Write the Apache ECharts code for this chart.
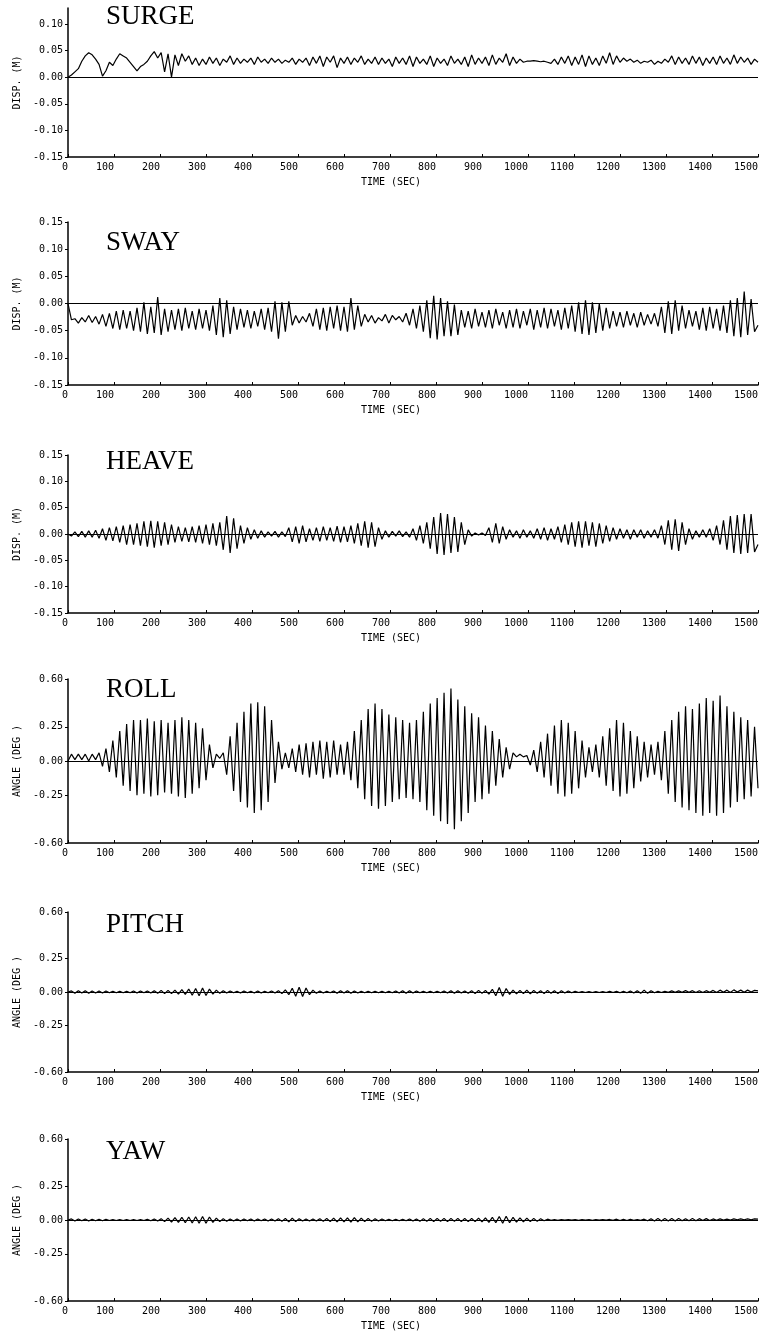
<!DOCTYPE html>
<html>
<head>
<meta charset="utf-8">
<script src="https://cdn.jsdelivr.net/npm/echarts@6/dist/echarts.min.js"></script>
<style>
html,body{margin:0;padding:0;background:#fff;}
#chart{width:763px;height:1334px;}
</style>
</head>
<body>
<div id="chart"></div>
<script>
// ---- Data ----
const TIME = [
0,7.5,15,22.5,30,37.5,45,52.5,60,67.5,
75,82.5,90,97.5,105,112.5,120,127.5,135,142.5,
150,157.5,165,172.5,180,187.5,195,202.5,210,217.5,
225,232.5,240,247.5,255,262.5,270,277.5,285,292.5,
300,307.5,315,322.5,330,337.5,345,352.5,360,367.5,
375,382.5,390,397.5,405,412.5,420,427.5,435,442.5,
450,457.5,465,472.5,480,487.5,495,502.5,510,517.5,
525,532.5,540,547.5,555,562.5,570,577.5,585,592.5,
600,607.5,615,622.5,630,637.5,645,652.5,660,667.5,
675,682.5,690,697.5,705,712.5,720,727.5,735,742.5,
750,757.5,765,772.5,780,787.5,795,802.5,810,817.5,
825,832.5,840,847.5,855,862.5,870,877.5,885,892.5,
900,907.5,915,922.5,930,937.5,945,952.5,960,967.5,
975,982.5,990,997.5,1005,1012.5,1020,1027.5,1035,1042.5,
1050,1057.5,1065,1072.5,1080,1087.5,1095,1102.5,1110,1117.5,
1125,1132.5,1140,1147.5,1155,1162.5,1170,1177.5,1185,1192.5,
1200,1207.5,1215,1222.5,1230,1237.5,1245,1252.5,1260,1267.5,
1275,1282.5,1290,1297.5,1305,1312.5,1320,1327.5,1335,1342.5,
1350,1357.5,1365,1372.5,1380,1387.5,1395,1402.5,1410,1417.5,
1425,1432.5,1440,1447.5,1455,1462.5,1470,1477.5,1485,1492.5,1500
];

const SURGE = [
0.000,0.004,0.010,0.016,0.030,0.040,0.046,0.042,0.034,0.024,
0.002,0.012,0.028,0.022,0.034,0.044,0.040,0.036,0.028,0.020,
0.012,0.020,0.024,0.030,0.040,0.048,0.036,0.046,0.010,0.044,
0.000,0.042,0.022,0.044,0.030,0.040,0.024,0.036,0.022,0.034,
0.024,0.038,0.026,0.036,0.022,0.034,0.028,0.040,0.024,0.036,
0.026,0.034,0.028,0.036,0.024,0.038,0.028,0.034,0.026,0.036,
0.028,0.034,0.026,0.032,0.028,0.036,0.024,0.034,0.028,0.036,
0.022,0.038,0.026,0.040,0.020,0.038,0.028,0.040,0.018,0.036,
0.026,0.038,0.024,0.036,0.028,0.040,0.024,0.034,0.026,0.038,
0.024,0.036,0.026,0.034,0.020,0.038,0.026,0.036,0.024,0.040,
0.020,0.038,0.026,0.034,0.024,0.040,0.020,0.036,0.026,0.034,
0.022,0.040,0.026,0.034,0.024,0.038,0.020,0.042,0.024,0.036,
0.026,0.038,0.022,0.042,0.024,0.036,0.028,0.044,0.022,0.038,
0.026,0.034,0.028,0.030,0.030,0.031,0.030,0.029,0.030,0.028,
0.026,0.034,0.024,0.038,0.026,0.040,0.022,0.038,0.024,0.042,
0.020,0.040,0.024,0.036,0.022,0.040,0.026,0.046,0.024,0.040,
0.028,0.036,0.030,0.034,0.028,0.032,0.026,0.030,0.028,0.032,
0.024,0.030,0.026,0.034,0.028,0.040,0.024,0.038,0.026,0.036,
0.024,0.040,0.026,0.038,0.022,0.036,0.026,0.038,0.024,0.040,
0.026,0.036,0.024,0.042,0.026,0.038,0.028,0.036,0.024,0.034,0.028
];

const SWAY = [
0.000,-0.030,-0.028,-0.036,-0.026,-0.034,-0.022,-0.035,-0.024,-0.038,
-0.020,-0.042,-0.018,-0.046,-0.014,-0.048,-0.012,-0.046,-0.014,-0.050,
-0.008,-0.052,0.002,-0.056,-0.006,-0.054,0.012,-0.058,-0.010,-0.052,
-0.012,-0.048,-0.010,-0.050,-0.008,-0.046,-0.014,-0.048,-0.010,-0.046,
-0.012,-0.050,-0.004,-0.058,0.010,-0.062,0.006,-0.056,-0.006,-0.048,
-0.010,-0.044,-0.012,-0.046,-0.014,-0.042,-0.010,-0.048,-0.008,-0.052,
0.004,-0.065,0.002,-0.052,0.004,-0.040,-0.022,-0.036,-0.024,-0.034,
-0.018,-0.042,-0.010,-0.048,-0.008,-0.050,-0.006,-0.046,-0.004,-0.050,
-0.006,-0.052,0.010,-0.048,-0.004,-0.042,-0.020,-0.034,-0.022,-0.036,
-0.026,-0.032,-0.020,-0.036,-0.022,-0.030,-0.024,-0.034,-0.018,-0.040,
-0.010,-0.046,-0.004,-0.052,0.006,-0.064,0.014,-0.066,0.010,-0.060,
0.004,-0.060,-0.002,-0.058,-0.012,-0.044,-0.014,-0.046,-0.010,-0.042,
-0.016,-0.044,-0.012,-0.046,-0.010,-0.040,-0.016,-0.046,-0.012,-0.044,
-0.010,-0.046,-0.014,-0.040,-0.010,-0.048,-0.012,-0.044,-0.008,-0.046,
-0.010,-0.042,-0.012,-0.048,-0.008,-0.046,-0.004,-0.052,0.002,-0.056,
0.006,-0.058,0.002,-0.054,0.000,-0.050,-0.008,-0.046,-0.014,-0.042,
-0.016,-0.044,-0.014,-0.040,-0.018,-0.044,-0.016,-0.040,-0.020,-0.038,
-0.018,-0.042,-0.006,-0.054,0.004,-0.056,0.006,-0.050,-0.004,-0.046,
-0.012,-0.042,-0.014,-0.048,-0.008,-0.050,-0.006,-0.046,-0.010,-0.050,
-0.004,-0.054,0.006,-0.060,0.010,-0.062,0.022,-0.058,0.008,-0.052,-0.040
];

const HEAVE = [
0.000,-0.004,0.004,-0.005,0.005,-0.006,0.006,-0.006,0.007,-0.008,
0.010,-0.012,0.012,-0.013,0.014,-0.016,0.016,-0.020,0.018,-0.020,
0.020,-0.022,0.024,-0.024,0.025,-0.026,0.024,-0.022,0.022,-0.020,
0.018,-0.016,0.014,-0.014,0.012,-0.015,0.014,-0.016,0.016,-0.018,
0.018,-0.020,0.020,-0.022,0.022,-0.030,0.034,-0.036,0.030,-0.028,
0.016,-0.018,0.012,-0.010,0.008,-0.008,0.006,-0.006,0.004,-0.004,
0.005,-0.006,0.004,-0.005,0.012,-0.015,0.014,-0.018,0.016,-0.015,
0.010,-0.012,0.012,-0.014,0.014,-0.012,0.012,-0.014,0.015,-0.016,
0.014,-0.015,0.016,-0.018,0.020,-0.022,0.024,-0.026,0.022,-0.024,
0.012,-0.010,0.006,-0.006,0.005,-0.004,0.006,-0.005,0.004,-0.006,
0.010,-0.012,0.016,-0.018,0.022,-0.028,0.032,-0.038,0.040,-0.040,
0.038,-0.036,0.032,-0.034,0.022,-0.020,0.008,-0.004,0.002,-0.002,
0.002,-0.003,0.012,-0.016,0.020,-0.018,0.014,-0.010,0.008,-0.006,
0.006,-0.008,0.008,-0.006,0.006,-0.008,0.010,-0.010,0.012,-0.012,
0.010,-0.010,0.014,-0.016,0.018,-0.020,0.022,-0.024,0.024,-0.026,
0.024,-0.022,0.022,-0.024,0.020,-0.018,0.016,-0.014,0.012,-0.010,
0.010,-0.008,0.008,-0.010,0.008,-0.006,0.008,-0.008,0.006,-0.006,
0.008,-0.008,0.016,-0.020,0.026,-0.030,0.028,-0.032,0.022,-0.020,
0.010,-0.010,0.006,-0.006,0.008,-0.006,0.010,-0.012,0.016,-0.020,
0.026,-0.030,0.034,-0.036,0.036,-0.038,0.038,-0.036,0.038,-0.034,-0.020
];

const ROLL = [
0.00,0.05,0.01,0.05,0.01,0.05,0.00,0.05,0.01,0.06,
-0.04,0.09,-0.08,0.15,-0.12,0.22,-0.18,0.27,-0.22,0.30,
-0.25,0.30,-0.24,0.31,-0.26,0.29,-0.25,0.30,-0.23,0.28,
-0.24,0.30,-0.26,0.32,-0.27,0.30,-0.24,0.28,-0.20,0.24,
-0.14,0.12,-0.05,0.05,0.02,0.06,-0.10,0.18,-0.22,0.28,
-0.30,0.36,-0.34,0.42,-0.38,0.43,-0.36,0.40,-0.30,0.30,
-0.16,0.14,-0.06,0.06,-0.05,0.09,-0.08,0.12,-0.10,0.13,
-0.12,0.14,-0.10,0.15,-0.13,0.14,-0.12,0.15,-0.10,0.12,
-0.10,0.14,-0.14,0.22,-0.20,0.30,-0.28,0.38,-0.33,0.42,
-0.35,0.38,-0.33,0.34,-0.30,0.32,-0.28,0.30,-0.27,0.28,
-0.28,0.30,-0.30,0.36,-0.36,0.42,-0.40,0.46,-0.44,0.50,
-0.46,0.53,-0.50,0.45,-0.44,0.40,-0.38,0.35,-0.30,0.32,
-0.28,0.26,-0.24,0.22,-0.18,0.16,-0.12,0.10,-0.06,0.06,
0.03,0.05,0.03,0.04,-0.03,0.08,-0.08,0.14,-0.12,0.20,
-0.18,0.26,-0.24,0.30,-0.26,0.28,-0.24,0.22,-0.20,0.15,
-0.12,0.10,-0.08,0.12,-0.12,0.18,-0.18,0.24,-0.22,0.30,
-0.26,0.28,-0.24,0.22,-0.20,0.18,-0.15,0.14,-0.12,0.12,
-0.10,0.14,-0.14,0.22,-0.24,0.30,-0.30,0.36,-0.34,0.40,
-0.36,0.38,-0.38,0.42,-0.40,0.46,-0.38,0.44,-0.40,0.48,
-0.38,0.40,-0.34,0.36,-0.30,0.32,-0.28,0.30,-0.26,0.25,-0.20
];

const PITCH = [
0.000,0.008,-0.010,0.010,-0.008,0.010,-0.010,0.008,-0.008,0.008,
-0.008,0.008,-0.006,0.006,-0.006,0.006,-0.006,0.006,-0.006,0.008,
-0.008,0.008,-0.006,0.008,-0.008,0.010,-0.010,0.012,-0.012,0.012,
-0.012,0.014,-0.016,0.018,-0.018,0.022,-0.024,0.026,-0.028,0.030,
-0.026,0.022,-0.016,0.014,-0.010,0.010,-0.008,0.008,-0.006,0.006,
-0.008,0.008,-0.006,0.006,-0.008,0.008,-0.008,0.006,-0.006,0.008,
-0.008,0.010,-0.012,0.016,-0.020,0.028,-0.032,0.036,-0.034,0.030,
-0.020,0.014,-0.010,0.008,-0.008,0.006,-0.006,0.008,-0.010,0.010,
-0.008,0.010,-0.010,0.008,-0.008,0.006,-0.006,0.006,-0.006,0.006,
-0.006,0.006,-0.006,0.006,-0.006,0.008,-0.008,0.010,-0.010,0.010,
-0.008,0.008,-0.006,0.006,-0.006,0.006,-0.006,0.006,-0.006,0.008,
-0.008,0.010,-0.010,0.010,-0.008,0.008,-0.010,0.010,-0.012,0.012,
-0.010,0.012,-0.016,0.020,-0.028,0.034,-0.032,0.026,-0.018,0.014,
-0.014,0.012,-0.012,0.014,-0.014,0.012,-0.010,0.010,-0.012,0.012,
-0.010,0.010,-0.012,0.010,-0.008,0.008,-0.006,0.006,-0.004,0.004,
-0.004,0.004,-0.004,0.004,-0.004,0.004,-0.004,0.006,-0.004,0.006,
-0.006,0.006,-0.006,0.008,-0.008,0.010,-0.010,0.014,-0.010,0.010,
-0.006,0.006,-0.004,0.006,-0.002,0.008,-0.002,0.008,-0.002,0.010,
-0.002,0.010,-0.004,0.010,-0.004,0.010,-0.002,0.012,-0.004,0.014,
-0.002,0.014,-0.004,0.016,0.000,0.014,-0.002,0.014,0.000,0.012,0.008
];

const YAW = [
0.000,0.008,-0.008,0.008,-0.006,0.008,-0.008,0.006,-0.006,0.006,
-0.006,0.006,-0.004,0.004,-0.004,0.004,-0.004,0.004,-0.004,0.004,
-0.004,0.004,-0.004,0.006,-0.006,0.008,-0.008,0.010,-0.012,0.014,
-0.016,0.018,-0.018,0.020,-0.020,0.022,-0.022,0.024,-0.024,0.026,
-0.024,0.022,-0.018,0.014,-0.012,0.010,-0.010,0.008,-0.008,0.008,
-0.008,0.008,-0.006,0.008,-0.008,0.008,-0.006,0.008,-0.008,0.008,
-0.008,0.010,-0.010,0.012,-0.014,0.014,-0.012,0.010,-0.008,0.008,
-0.008,0.008,-0.008,0.010,-0.010,0.012,-0.012,0.014,-0.014,0.016,
-0.014,0.016,-0.016,0.018,-0.014,0.014,-0.012,0.012,-0.010,0.010,
-0.008,0.008,-0.006,0.006,-0.006,0.006,-0.006,0.006,-0.006,0.008,
-0.008,0.008,-0.010,0.010,-0.010,0.012,-0.012,0.012,-0.010,0.012,
-0.012,0.012,-0.010,0.012,-0.012,0.012,-0.012,0.012,-0.012,0.014,
-0.014,0.016,-0.018,0.020,-0.020,0.026,-0.024,0.028,-0.020,0.020,
-0.016,0.016,-0.014,0.014,-0.012,0.012,-0.010,0.010,-0.006,0.006,
-0.003,0.003,-0.003,0.003,0.000,0.003,0.000,0.003,-0.002,0.003,
0.000,0.003,-0.002,0.003,0.000,0.003,0.000,0.004,-0.003,0.006,
-0.004,0.006,-0.004,0.005,-0.002,0.004,-0.002,0.006,-0.006,0.010,
-0.008,0.012,-0.008,0.012,-0.008,0.012,-0.008,0.012,-0.006,0.010,
-0.006,0.012,-0.006,0.010,-0.004,0.010,-0.004,0.008,-0.002,0.008,
0.000,0.006,0.000,0.008,0.002,0.008,0.002,0.008,0.002,0.008,0.006
];

const TITLES = ['SURGE','SWAY','HEAVE','ROLL','PITCH','YAW'];
const Y_NAMES = ['DISP. (M)','DISP. (M)','DISP. (M)','ANGLE (DEG )','ANGLE (DEG )','ANGLE (DEG )'];
const X_NAME = 'TIME (SEC)';
const SURGE_TICKS = [-0.15,-0.10,-0.05,0,0.05,0.10];
const DISP_TICKS = [-0.15,-0.10,-0.05,0,0.05,0.10,0.15];
const ANGLE_TICKS = [-0.60,-0.25,0,0.25,0.60];

// ---- Layout ----
const SERIES = [SURGE, SWAY, HEAVE, ROLL, PITCH, YAW];
const TICKS = [SURGE_TICKS, DISP_TICKS, DISP_TICKS, ANGLE_TICKS, ANGLE_TICKS, ANGLE_TICKS];
const YMIN = [-0.15,-0.15,-0.15,-0.6,-0.6,-0.6];
const YMAX = [0.13,0.15,0.15,0.6,0.6,0.6];
const GRID_TOP = [8, 222, 455, 679, 912, 1139];
const GRID_BOTTOM = [157, 385, 613, 843, 1072, 1301];
const TITLE_TOP = [3, 229, 448, 676, 911, 1138];

const AX_FONT = 'DejaVu Sans Mono';
const grids = [], xAxes = [], yAxes = [], series = [], titles = [];
for (let k = 0; k < 6; k++) {
  grids.push({left: 68, right: 5, top: GRID_TOP[k], height: GRID_BOTTOM[k] - GRID_TOP[k], containLabel: false, outerBoundsMode: 'none'});
  xAxes.push({
    type: 'value', gridIndex: k, min: 0, max: 1500, interval: 100,
    name: X_NAME, nameLocation: 'middle', nameGap: 20,
    nameTextStyle: {fontFamily: AX_FONT, fontSize: 10, color: '#000', padding: [0, 44, 0, 0]},
    axisLine: {show: true, onZero: false, lineStyle: {color: '#000', width: 1.5}},
    axisTick: {show: true, inside: true, length: 3, lineStyle: {color: '#000', width: 1}},
    axisLabel: {fontFamily: AX_FONT, fontSize: 10, color: '#000', margin: 5, align: 'right',
      showMaxLabel: true, showMinLabel: true, formatter: v => String(v)},
    splitLine: {show: false}
  });
  yAxes.push({
    type: 'value', gridIndex: k, min: YMIN[k], max: YMAX[k],
    name: Y_NAMES[k], nameLocation: 'middle', nameGap: 46, nameRotate: 90,
    nameTextStyle: {fontFamily: AX_FONT, fontSize: 10, color: '#000'},
    axisLine: {show: true, onZero: false, lineStyle: {color: '#000', width: 1.5}},
    axisTick: {show: true, inside: false, length: 3, customValues: TICKS[k], lineStyle: {color: '#000', width: 1}},
    axisLabel: {fontFamily: AX_FONT, fontSize: 10, color: '#000', margin: 5, customValues: TICKS[k],
      formatter: v => Number(v).toFixed(2)},
    splitLine: {show: false}
  });
  series.push({
    type: 'line', xAxisIndex: k, yAxisIndex: k,
    data: TIME.map((t, i) => [t, SERIES[k][i]]),
    showSymbol: false, symbol: 'none', smooth: false,
    lineStyle: {color: '#000', width: 1.2},
    markLine: {silent: true, symbol: 'none', label: {show: false},
      lineStyle: {color: '#000', type: 'solid', width: 1},
      data: [{yAxis: 0}]},
    animation: false
  });
  titles.push({text: TITLES[k], left: 106, top: TITLE_TOP[k], padding: 0,
    textStyle: {fontFamily: 'Liberation Serif', fontSize: 27, fontWeight: 'normal', color: '#000'}});
}

const chart = echarts.init(document.getElementById('chart'), null, {renderer: 'canvas'});
chart.setOption({
  animation: false,
  backgroundColor: '#fff',
  title: titles,
  grid: grids,
  xAxis: xAxes,
  yAxis: yAxes,
  series: series
});
</script>
</body>
</html>
